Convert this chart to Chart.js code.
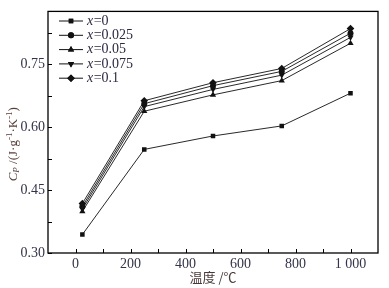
<!DOCTYPE html>
<html>
<head>
<meta charset="utf-8">
<script src="https://cdn.jsdelivr.net/npm/chart.js@4"></script>
<style>
  html, body { margin: 0; padding: 0; background: #fff; }
  #wrap { width: 389px; height: 288px; }
</style>
</head>
<body>
<div id="wrap"><canvas id="c" width="389" height="288"></canvas></div>
<script>
// temperatures (°C)
const temps = [25, 250, 500, 750, 1000];
// Cp values per composition
const cpX0 = [0.344, 0.547, 0.579, 0.603, 0.681];
const cpX0025 = [0.411, 0.656, 0.699, 0.733, 0.824];
const cpX005 = [0.399, 0.638, 0.677, 0.711, 0.800];
const cpX0075 = [0.405, 0.649, 0.690, 0.724, 0.814];
const cpX01 = [0.418, 0.663, 0.706, 0.740, 0.835];
const seriesNames = ['0', '0.025', '0.05', '0.075', '0.1'];
const xTicks = [0, 200, 400, 600, 800, 1000];
const xMinor = [100, 300, 500, 700, 900];
const yTicks = [0.30, 0.45, 0.60, 0.75];
const yMinor = [0.375, 0.525, 0.675, 0.825];

const serif = '"Liberation Serif", "Times New Roman", serif';
const tickColor = '#33334a';

const styles = [
  { pointStyle: 'rect', rotation: 0, radius: 3.2 },
  { pointStyle: 'circle', rotation: 0, radius: 3 },
  { pointStyle: 'triangle', rotation: 0, radius: 3.6 },
  { pointStyle: 'triangle', rotation: 180, radius: 3.6 },
  { pointStyle: 'rectRot', rotation: 0, radius: 3.8 },
];
const allData = [cpX0, cpX0025, cpX005, cpX0075, cpX01];

const datasets = allData.map((vals, i) => ({
  label: 'x=' + seriesNames[i],
  data: temps.map((t, k) => ({ x: t, y: vals[k] })),
  borderColor: '#111',
  backgroundColor: '#111',
  borderWidth: 0.9,
  pointStyle: styles[i].pointStyle,
  rotation: styles[i].rotation,
  pointRadius: styles[i].radius,
  pointBorderWidth: 0,
  tension: 0,
}));

const decor = {
  id: 'decor',
  afterDraw(chart) {
    const { ctx, chartArea: a, scales: { x, y } } = chart;
    ctx.save();
    // frame
    ctx.strokeStyle = '#000';
    ctx.lineWidth = 1.3;
    ctx.strokeRect(a.left, a.top, a.right - a.left, a.bottom - a.top);
    // inward ticks
    ctx.lineWidth = 1;
    ctx.beginPath();
    xTicks.concat(xMinor).forEach(v => {
      const px = Math.round(x.getPixelForValue(v)) + 0.5;
      ctx.moveTo(px, a.bottom);
      ctx.lineTo(px, a.bottom - 4);
    });
    yTicks.concat(yMinor).forEach(v => {
      const py = Math.round(y.getPixelForValue(v)) + 0.5;
      ctx.moveTo(a.left, py);
      ctx.lineTo(a.left + 4, py);
    });
    ctx.stroke();

    // legend
    const lx = 59, ly0 = 21, dy = 14.3;
    chart.data.datasets.forEach((ds, i) => {
      const yy = ly0 + i * dy;
      ctx.strokeStyle = '#111';
      ctx.lineWidth = 1;
      ctx.beginPath();
      ctx.moveTo(lx, yy);
      ctx.lineTo(lx + 24, yy);
      ctx.stroke();
      ctx.fillStyle = '#111';
      Chart.helpers.drawPoint(ctx, {
        pointStyle: ds.pointStyle, rotation: ds.rotation,
        radius: ds.pointRadius, borderWidth: 0
      }, lx + 12, yy);
      ctx.fill();
      ctx.fillStyle = '#2a2a40';
      ctx.textBaseline = 'middle';
      ctx.textAlign = 'left';
      ctx.font = 'italic 14px ' + serif;
      ctx.fillText('x', lx + 28, yy);
      const w = ctx.measureText('x').width;
      ctx.font = '14px ' + serif;
      ctx.fillText('=' + seriesNames[i], lx + 28 + w + 0.5, yy);
    });

    // x title
    ctx.fillStyle = '#4a3a3a';
    ctx.textAlign = 'center';
    ctx.textBaseline = 'middle';
    ctx.font = '13px "Noto Sans CJK SC", serif';
    ctx.fillText('温度 /℃', (a.left + a.right) / 2, 277);

    // y title, rotated
    ctx.translate(14, (a.top + a.bottom) / 2 + 12);
    ctx.rotate(-Math.PI / 2);
    ctx.textAlign = 'left';
    const parts = [
      ['italic 13px ' + serif, 'C', 0],
      ['italic 9px ' + serif, 'P', 3],
      ['13px ' + serif, ' /(J·g', 0],
      ['9px ' + serif, '-1', -4],
      ['13px ' + serif, '·K', 0],
      ['9px ' + serif, '-1', -4],
      ['13px ' + serif, ')', 0],
    ];
    let total = 0;
    parts.forEach(p => { ctx.font = p[0]; total += ctx.measureText(p[1]).width; });
    let cx = -total / 2;
    ctx.fillStyle = '#5a4038';
    parts.forEach(p => {
      ctx.font = p[0];
      ctx.fillText(p[1], cx, p[2]);
      cx += ctx.measureText(p[1]).width;
    });
    ctx.restore();
  }
};

new Chart(document.getElementById('c'), {
  type: 'line',
  data: { datasets },
  options: {
    responsive: false,
    animation: false,
    layout: { padding: { left: 0, right: 11, top: 6, bottom: 0 } },
    plugins: { legend: { display: false }, tooltip: { enabled: false } },
    scales: {
      x: {
        type: 'linear',
        min: -100,
        max: 1100,
        afterBuildTicks: s => { s.ticks = xTicks.map(v => ({ value: v })); },
        afterFit: s => { s.height = 35; },
        grid: { display: false, drawTicks: false },
        border: { display: false },
        ticks: {
          padding: 3,
          color: tickColor,
          font: { family: serif, size: 14 },
          callback: v => v === 1000 ? '1 000' : String(v),
        },
      },
      y: {
        min: 0.30,
        max: 0.876,
        afterBuildTicks: s => { s.ticks = yTicks.map(v => ({ value: v })); },
        afterFit: s => { s.width = 48; },
        grid: { display: false, drawTicks: false },
        border: { display: false },
        ticks: {
          padding: 3,
          color: tickColor,
          font: { family: serif, size: 14 },
          callback: v => Number(v).toFixed(2),
        },
      },
    },
  },
  plugins: [decor],
});
</script>
</body>
</html>
